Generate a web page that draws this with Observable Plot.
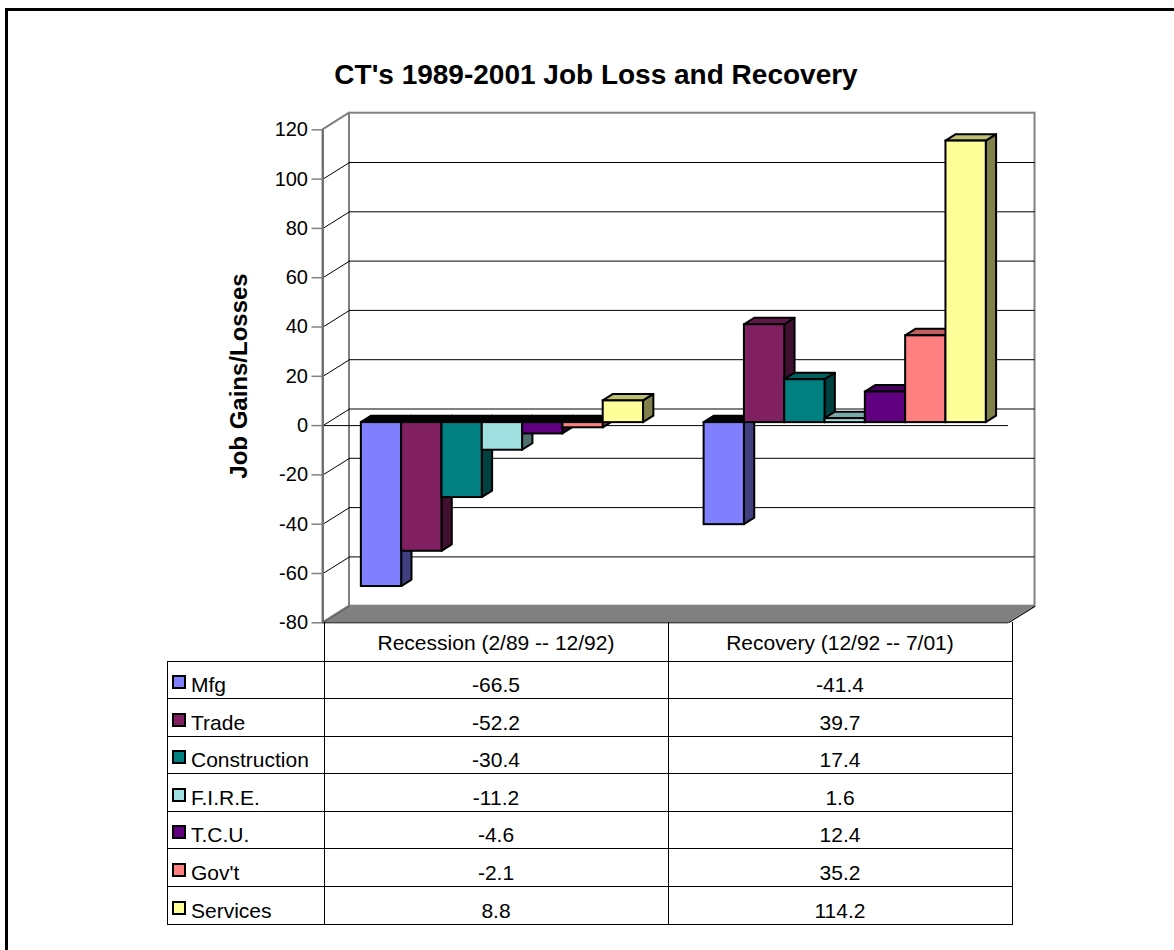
<!DOCTYPE html>
<html>
<head>
<meta charset="utf-8">
<script src="https://cdn.jsdelivr.net/npm/d3@7"></script>
<script src="https://cdn.jsdelivr.net/npm/@observablehq/plot@0.6"></script>
<style>
  html, body { margin: 0; padding: 0; background: #fff; }
  #wrap { position: relative; width: 1174px; height: 950px; overflow: hidden; background: #fff;
          font-family: "Liberation Sans", Arial, sans-serif; color: #000; }
  #frame { position: absolute; left: 5px; top: 8px; right: -10px; bottom: -10px;
           border-left: 3px solid #000; border-top: 3px solid #000; }
  #title { position: absolute; left: 596px; top: 60px; transform: translateX(-50%);
           font-size: 28px; font-weight: bold; line-height: 30px; white-space: nowrap; }
  #chart { position: absolute; left: 0; top: 100px; }
  #chart g[aria-label="y-axis tick"] { stroke: #808080; stroke-width: 1.5px; }
  #chart .tick line { stroke: #808080; }
  #tbl { position: absolute; left: 166.5px; top: 622px; border-collapse: collapse; table-layout: fixed;
         font-size: 21px; line-height: 20px; }
  #tbl td { border: 1px solid #000; padding: 0; vertical-align: bottom; white-space: nowrap; }
  #tbl tr.head td { height: 39px; text-align: center; padding-bottom: 8px; box-sizing: border-box; }
  #tbl tr.head td.blank { border-left: none; border-top: none; }
  #tbl tr.head td.colhead { border-top: none; }
  #tbl tr.row td { height: 37.6px; box-sizing: border-box; padding-bottom: 3px; }
  #tbl td.val { text-align: center; }
  #tbl td.lab { padding-left: 4.5px; }
  .sw { display: inline-block; width: 10px; height: 10px; border: 2px solid #000;
        margin-right: 5px; margin-bottom: 3px; vertical-align: baseline; }
</style>
</head>
<body>
<div id="wrap">
  <div id="frame"></div>
  <div id="title"></div>
  <div id="chart"></div>
  <table id="tbl"><colgroup><col style="width:157px"><col style="width:344px"><col style="width:344px"></colgroup><tbody id="tb"></tbody></table>
</div>
<script>
// ---------- data ----------
const chartTitle = "CT's 1989-2001 Job Loss and Recovery";
const yLabel = "Job Gains/Losses";
const periods = ["Recession (2/89 -- 12/92)", "Recovery (12/92 -- 7/01)"];
const sectors = ["Mfg", "Trade", "Construction", "F.I.R.E.", "T.C.U.", "Gov't", "Services"];
const recession = [-66.5, -52.2, -30.4, -11.2, -4.6, -2.1, 8.8];
const recovery = [-41.4, 39.7, 17.4, 1.6, 12.4, 35.2, 114.2];
const yTicks = [-80, -60, -40, -20, 0, 20, 40, 60, 80, 100, 120];
const sectorColors = ["#8080FF", "#802060", "#008080", "#A0E0E0", "#600080", "#FF8080", "#FFFF99"];

// ---------- layout (oblique 3D projection in data units) ----------
const DXu = 0.0773;   // depth shift along x (category units)
const DYu = 6.734;    // depth shift along y (value units)
const GAP = 0.098;    // left gap inside a category
const BW = 0.1176;    // bar width
const Z0 = 0.18, Z1 = 0.57; // bar front / back depth
const yMin = yTicks[0], yMax = yTicks[yTicks.length - 1];

const shade = (c, k) => { const o = d3.rgb(c); return d3.rgb(o.r * k, o.g * k, o.b * k).formatHex(); };

const seriesByPeriod = [recession, recovery];
const rows = [];
periods.forEach((p, pi) => sectors.forEach((s, si) => rows.push({period: p, sector: s, value: seriesByPeriod[pi][si], pi, si})));

document.getElementById("title").textContent = chartTitle;

const gridInner = yTicks.filter(v => v !== yMin && v !== yMax);

const marks = [
  // back wall
  Plot.rect([0], {x1: () => DXu, x2: () => 2 + DXu, y1: () => yMin + DYu, y2: () => yMax + DYu,
                  fill: "white", stroke: "#808080", strokeWidth: 2}),
  // side wall
  Plot.areaY([0, 1], {x: z => z * DXu, y1: z => yMin + z * DYu, y2: z => yMax + z * DYu,
                      fill: "white", stroke: "#808080", strokeWidth: 2}),
  // floor
  Plot.areaX([0, 1], {y: z => yMin + z * DYu, x1: z => z * DXu, x2: z => 2 + z * DXu, fill: "#808080"}),
  Plot.link([0], {x1: () => 2, y1: () => yMin, x2: () => 2 + DXu, y2: () => yMin + DYu, stroke: "black", strokeWidth: 1.2}),
  Plot.link([0], {x1: () => 0, y1: () => yMin, x2: () => DXu, y2: () => yMin + DYu, stroke: "#555", strokeWidth: 1}),
  // gridlines on back wall and side wall
  Plot.ruleY(gridInner, {y: v => v + DYu, x1: () => DXu, x2: () => 2 + DXu, stroke: "black", strokeWidth: 1}),
  Plot.link(gridInner, {x1: () => 0, y1: v => v, x2: () => DXu, y2: v => v + DYu, stroke: "black", strokeWidth: 1}),
  // front zero line and floor front edge
  Plot.ruleY([0], {x1: () => 0, x2: () => 2, stroke: "black", strokeWidth: 1}),
  Plot.ruleY([yMin], {x1: () => 0, x2: () => 2, stroke: "black", strokeWidth: 1}),
  // axis line
  Plot.ruleX([0], {y1: () => yMin, y2: () => yMax, stroke: "#707070", strokeWidth: 2})
];

// bars, drawn left to right so nearer faces cover farther ones
rows.forEach(r => {
  const xl = r.pi + GAP + r.si * BW;
  const xr = xl + BW;
  const c = sectorColors[r.si];
  const topV = Math.max(r.value, 0);
  marks.push(
    Plot.areaY([Z0, Z1], {x: z => xr + z * DXu, y1: z => z * DYu, y2: z => r.value + z * DYu,
                          fill: shade(c, 0.5), stroke: "black", strokeWidth: 2}),
    Plot.areaX([Z0, Z1], {y: z => topV + z * DYu, x1: z => xl + z * DXu, x2: z => xr + z * DXu,
                          fill: r.value < 0 ? "black" : shade(c, 0.75), stroke: "black", strokeWidth: 2}),
    Plot.rect([r], {x1: () => xl + Z0 * DXu, x2: () => xr + Z0 * DXu, y1: () => Z0 * DYu, y2: d => d.value + Z0 * DYu,
                    fill: c, stroke: "black", strokeWidth: 2})
  );
});

// y axis title
marks.push(Plot.text([yLabel], {text: d => d, frameAnchor: "left", rotate: -90, dx: -84, dy: 8,
                                 fontWeight: "bold", fontSize: 24, textAnchor: "middle", fill: "black"}));

const plot = Plot.plot({
  width: 1174,
  height: 540,
  marginTop: 12.7,
  marginBottom: 17.7,
  marginLeft: 322.5,
  marginRight: 139.5,
  x: {domain: [0, 2 + DXu], axis: null},
  y: {domain: [yMin, yMax + DYu], ticks: yTicks, tickSize: 11, tickPadding: 4, tickFormat: d => String(d), label: null},
  style: {fontFamily: "'Liberation Sans', Arial, sans-serif", fontSize: "20px", background: "transparent", color: "black"},
  marks
});
document.getElementById("chart").appendChild(plot);

// data table
const tb = document.getElementById("tb");
let html = '<tr class="head"><td class="blank"></td>' + periods.map(p => `<td class="colhead">${p}</td>`).join("") + "</tr>";
sectors.forEach((s, si) => {
  html += `<tr class="row"><td class="lab"><span class="sw" style="background:${sectorColors[si]}"></span>${s}</td>` +
          seriesByPeriod.map(arr => `<td class="val">${arr[si]}</td>`).join("") + "</tr>";
});
tb.innerHTML = html;
</script>
</body>
</html>
